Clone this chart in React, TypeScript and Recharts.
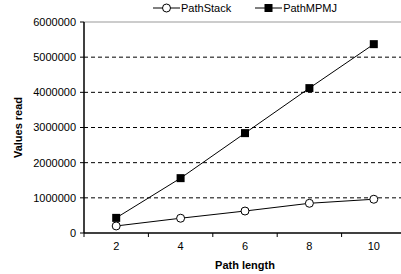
import React from "react";
import {
  CartesianGrid,
  Label,
  Line,
  LineChart,
  ReferenceLine,
  XAxis,
  YAxis,
} from "recharts";

const pathLengths = [2, 4, 6, 8, 10];
const pathStack = [200000, 420000, 625000, 845000, 960000];
const pathMPMJ = [430000, 1560000, 2840000, 4120000, 5370000];
const yTicks = [0, 1000000, 2000000, 3000000, 4000000, 5000000, 6000000];
const xTicks = [1, 2, 3, 4, 5, 6, 7, 8, 9, 10, 11];

const FONT = "'Liberation Sans', Arial, sans-serif";

const data = pathLengths.map((len, i) => ({
  len,
  stack: pathStack[i],
  mpmj: pathMPMJ[i],
}));

const SquareDot = (props: any) => {
  const { cx, cy } = props;
  if (cx == null || cy == null) return null;
  return <rect x={cx - 4} y={cy - 4} width={8} height={8} fill="#000" />;
};

// odd values are the category boundaries (tick marks), even values get labels
const XTick = (props: any) => {
  const { x, y, payload } = props;
  const v = payload.value;
  if (v % 2 === 1) {
    return <line x1={x} y1={y} x2={x} y2={y + 4} stroke="#000" />;
  }
  return (
    <text
      x={x}
      y={y + 17}
      textAnchor="middle"
      fill="#000"
      fontSize={11}
      fontFamily={FONT}
    >
      {v}
    </text>
  );
};

function LegendRow() {
  return (
    <div
      style={{
        position: "absolute",
        top: 0,
        left: 153,
        display: "flex",
        alignItems: "center",
        fontFamily: FONT,
        fontSize: 11,
        color: "#000",
        height: 16,
      }}
    >
      <svg width={27} height={10}>
        <line x1={0} y1={5} x2={27} y2={5} stroke="#000" />
        <circle cx={13.5} cy={5} r={4} fill="#fff" stroke="#000" />
      </svg>
      <span style={{ marginLeft: 1 }}>PathStack</span>
      <svg width={27} height={10} style={{ marginLeft: 24 }}>
        <line x1={0} y1={5} x2={27} y2={5} stroke="#000" />
        <rect x={9.5} y={1} width={8} height={8} fill="#000" />
      </svg>
      <span style={{ marginLeft: 1 }}>PathMPMJ</span>
    </div>
  );
}

export default function App() {
  return (
    <div
      style={{
        position: "absolute",
        top: 0,
        left: 0,
        width: 401,
        height: 274,
        overflow: "hidden",
        background: "#fff",
      }}
    >
      <LegendRow />
      <LineChart
        width={420}
        height={274}
        data={data}
        margin={{ top: 22, right: 14, bottom: 0, left: 8 }}
        style={{ fontFamily: FONT }}
      >
        <CartesianGrid
          vertical={false}
          horizontalValues={[1000000, 2000000, 3000000, 4000000, 5000000]}
          stroke="#000"
          strokeDasharray="4 3"
        />
        <ReferenceLine y={6000000} stroke="#999" />
        <XAxis
          type="number"
          dataKey="len"
          domain={[1, 11]}
          ticks={xTicks}
          interval={0}
          height={41}
          tickLine={false}
          tickSize={0}
          tickMargin={0}
          axisLine={{ stroke: "#000", strokeWidth: 1.5 }}
          tick={<XTick />}
        >
          <Label
            value="Path length"
            position="insideBottom"
            offset={5}
            style={{ fontWeight: "bold", fontSize: 11, fill: "#000", fontFamily: FONT }}
          />
        </XAxis>
        <YAxis
          domain={[0, 6000000]}
          ticks={yTicks}
          width={76}
          interval={0}
          axisLine={{ stroke: "#000", strokeWidth: 1.5 }}
          tickLine={{ stroke: "#000" }}
          tickSize={4}
          tickMargin={4}
          tick={{ fill: "#000", fontSize: 11, fontFamily: FONT }}
        >
          <Label
            value="Values read"
            angle={-90}
            position="insideLeft"
            offset={10}
            style={{
              fontWeight: "bold",
              fontSize: 11,
              fill: "#000",
              textAnchor: "middle",
              fontFamily: FONT,
            }}
          />
        </YAxis>
        <Line
          dataKey="stack"
          stroke="#000"
          strokeWidth={1}
          isAnimationActive={false}
          dot={{ r: 4, fill: "#fff", stroke: "#000", strokeWidth: 1 }}
          activeDot={false}
        />
        <Line
          dataKey="mpmj"
          stroke="#000"
          strokeWidth={1}
          isAnimationActive={false}
          dot={<SquareDot />}
          activeDot={false}
        />
      </LineChart>
    </div>
  );
}
